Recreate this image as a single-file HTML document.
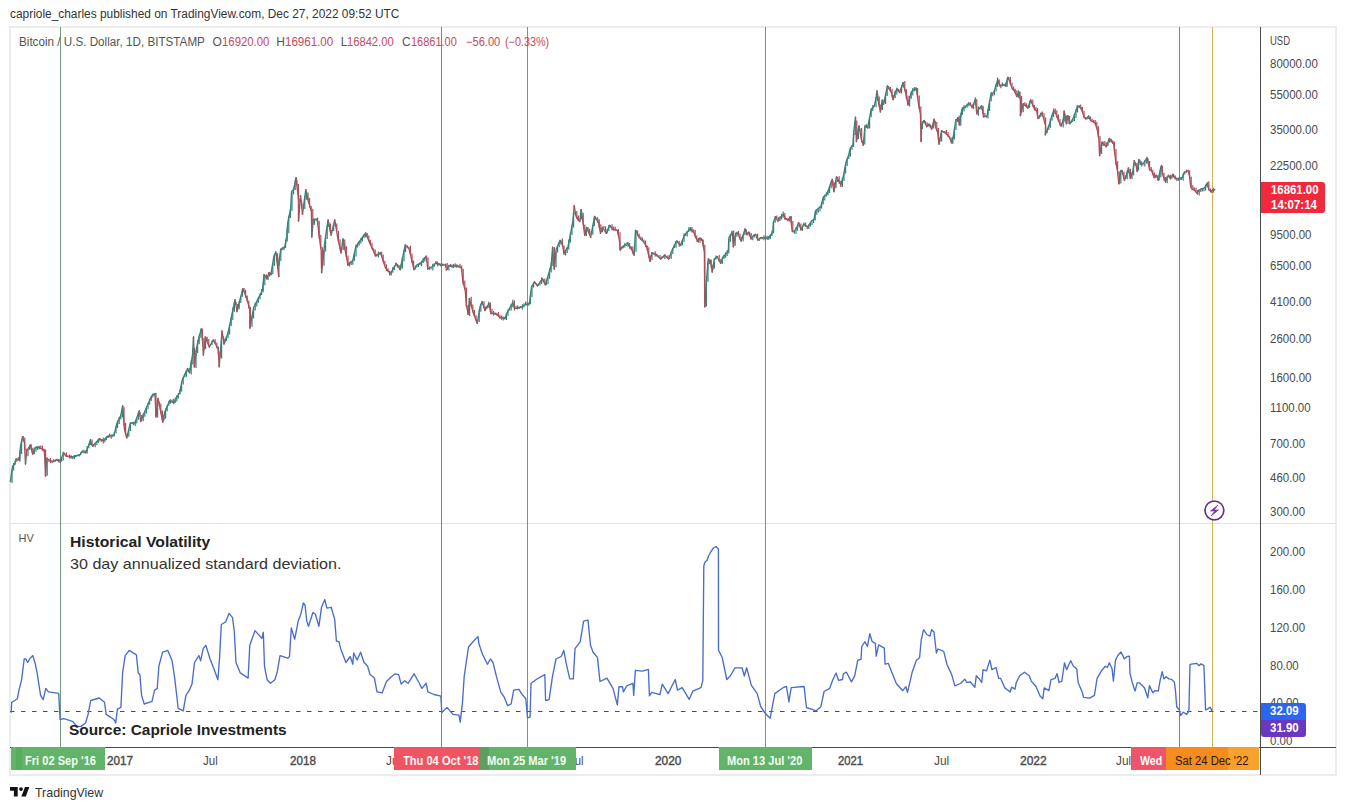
<!DOCTYPE html>
<html><head><meta charset="utf-8">
<style>
html,body{margin:0;padding:0;background:#fff;}
body{width:1346px;height:810px;overflow:hidden;position:relative;font-family:"Liberation Sans", sans-serif;}
.t{position:absolute;white-space:nowrap;}
.box{position:absolute;top:747px;height:23px;}
</style></head><body>
<svg width="1346" height="810" style="position:absolute;left:0;top:0">
 <rect x="10" y="27" width="1326" height="748" fill="none" stroke="#ececec" stroke-width="2"/>
 <line x1="10" y1="523.5" x2="1336" y2="523.5" stroke="#e3e3e3" stroke-width="1"/>
 <line x1="60.5" y1="27" x2="60.5" y2="747" stroke="#6f9c77" stroke-width="1"/>
 <line x1="441.5" y1="27" x2="441.5" y2="747" stroke="#c2636f" stroke-width="1"/>
 <line x1="527.5" y1="27" x2="527.5" y2="747" stroke="#6f9c77" stroke-width="1"/>
 <line x1="765.5" y1="27" x2="765.5" y2="747" stroke="#6f9c77" stroke-width="1"/>
 <line x1="1179.5" y1="27" x2="1179.5" y2="747" stroke="#c2636f" stroke-width="1"/>
 <line x1="1212.5" y1="27" x2="1212.5" y2="747" stroke="#d2b452" stroke-width="1"/>
 <line x1="10" y1="711.5" x2="1260" y2="711.5" stroke="#4a4a66" stroke-width="1" stroke-dasharray="4.5 6.5"/>
 <path d="M10.4 481.5L12.6 466.0M12.6 466.0L14.8 464.4M14.8 464.4L16.0 459.0M19.3 460.0L20.7 445.0M20.7 445.0L22.5 437.0M25.5 464.0L26.7 451.0M26.7 451.0L30.4 445.0M32.6 454.0L34.8 448.0M34.8 448.0L37.8 447.0M45.5 476.0L46.7 458.5M52.6 462.0L56.3 460.0M60.0 460.7L63.7 453.0M71.9 457.0L80.0 454.8M80.0 454.8L81.5 452.0M81.5 452.0L86.0 452.0M86.0 452.0L90.4 440.7M92.6 446.0L99.3 439.0M103.7 440.7L106.7 437.0M106.7 437.0L114.0 434.8M114.0 434.8L117.0 423.0M117.0 423.0L120.7 415.6M120.7 415.6L122.7 406.0M126.7 437.8L130.4 423.0M130.4 423.0L134.8 423.0M134.8 423.0L139.3 411.0M140.7 421.5L146.7 406.7M146.7 406.7L151.9 395.6M151.9 395.6L155.0 393.5M156.0 416.0L158.0 398.4M162.8 422.0L164.8 412.0M164.8 412.0L169.8 400.4M173.7 403.0L179.6 392.5M179.6 392.5L182.6 378.7M182.6 378.7L187.5 368.8M189.5 372.7L192.5 355.0M192.5 355.0L193.5 337.0M194.4 366.8L196.4 349.0M196.4 349.0L199.4 335.0M199.4 335.0L201.8 329.0M203.4 355.0L205.3 337.0M209.3 347.0L213.2 340.0M219.2 366.8L222.0 331.0M224.0 344.0L228.0 333.0M228.0 333.0L231.0 319.0M231.0 319.0L235.0 299.6M237.0 311.5L242.8 288.8M249.8 328.0L253.7 307.5M253.7 307.5L257.7 299.6M257.7 299.6L262.6 289.8M262.6 289.8L264.0 274.6M267.0 278.5L268.9 272.6M270.9 274.6L273.8 256.8M273.8 256.8L275.8 251.9M278.8 276.5L278.8 262.7M278.8 262.7L280.7 249.9M280.7 249.9L284.7 247.0M284.7 247.0L286.7 237.0M286.7 237.0L287.7 223.0M287.7 223.0L290.6 209.0M290.6 209.0L291.6 191.6M291.6 191.6L293.6 189.6M293.6 189.6L296.1 177.8M298.5 221.0L300.5 195.6M302.5 214.3L305.8 189.6M311.8 237.0L313.3 219.3M313.3 219.3L317.3 219.3M321.6 272.6L325.2 239.0M325.2 239.0L328.1 220.0M331.1 235.0L334.7 220.0M341.0 252.8L343.0 239.0M347.9 264.7L352.8 260.7M352.8 260.7L355.8 247.0M355.8 247.0L359.8 241.0M359.8 241.0L365.7 233.0M375.6 255.8L380.5 252.8M390.4 273.6L396.3 263.7M400.2 269.6L405.2 245.0M414.0 269.6L416.9 265.0M416.9 265.0L420.9 263.0M420.9 263.0L426.2 256.2M427.8 269.0L431.7 267.0M431.7 267.0L435.7 263.0M441.6 265.0L445.6 265.0M446.5 270.0L448.5 266.0M448.5 266.0L457.4 266.0M468.3 314.4L469.3 298.6M477.2 323.3L480.1 306.5M480.1 306.5L482.1 301.6M485.0 310.5L489.0 303.6M491.0 313.5L495.9 313.5M504.8 318.4L506.8 313.5M506.8 313.5L512.7 302.6M514.7 308.5L520.6 307.5M520.6 307.5L525.6 304.6M525.6 304.6L529.5 303.6M529.5 303.6L531.5 286.8M531.5 286.8L534.4 281.9M537.4 285.8L542.3 278.9M545.3 284.8L548.3 275.0M548.3 275.0L551.2 265.0M551.2 265.0L552.6 247.3M554.2 269.0L556.2 249.3M556.2 249.3L560.1 240.4M564.0 253.0L567.9 247.2M567.9 247.2L569.9 237.3M569.9 237.3L572.8 221.5M572.8 221.5L574.2 205.7M579.8 221.5L581.1 209.6M584.7 235.3L586.7 227.4M590.6 237.3L594.6 216.5M600.5 233.3L602.5 227.4M606.4 233.3L609.4 225.4M620.2 250.0L623.2 246.2M623.2 246.2L627.2 243.2M634.1 255.0L635.5 230.4M649.9 261.0L651.9 253.0M660.7 259.0L664.7 255.0M668.6 259.0L672.6 249.1M672.6 249.1L676.5 241.2M680.5 245.2L684.4 235.3M684.4 235.3L690.4 228.4M697.3 241.2L700.0 238.9M704.8 306.4L706.7 277.8M706.7 277.8L708.3 258.9M712.2 272.0L714.4 258.9M714.4 258.9L717.2 256.7M720.6 263.3L722.8 257.8M722.8 257.8L726.1 253.3M726.1 253.3L728.3 251.1M728.3 251.1L728.9 237.8M728.9 237.8L732.2 232.2M733.3 246.7L735.6 233.3M735.6 233.3L737.8 233.3M741.1 241.1L743.3 234.4M743.3 234.4L745.0 228.9M746.7 234.4L748.9 232.2M751.1 238.9L753.3 235.6M753.3 235.6L755.6 234.4M757.8 240.0L760.6 237.8M760.6 237.8L762.8 237.8M762.8 237.8L765.6 237.8M767.8 238.9L771.1 234.4M771.1 234.4L772.8 232.2M772.8 232.2L773.3 222.2M773.3 222.2L775.6 216.7M777.8 221.1L780.0 217.8M780.0 217.8L783.3 214.4M787.8 220.0L790.6 216.7M792.2 231.1L794.4 231.1M794.4 231.1L796.7 227.8M796.7 227.8L798.5 222.7M801.0 229.6L803.6 224.4M808.0 227.0L811.4 221.0M811.4 221.0L814.0 219.3M814.0 219.3L815.7 210.6M815.7 210.6L820.9 206.3M820.9 206.3L823.5 196.8M823.5 196.8L827.0 194.2M827.0 194.2L829.6 186.4M829.6 186.4L832.2 179.5M833.9 191.6L836.5 176.9M840.8 184.7L843.4 176.0M843.4 176.0L846.0 162.2M846.0 162.2L848.6 155.3M848.6 155.3L850.3 148.4M850.3 148.4L852.9 144.9M852.9 144.9L853.8 131.1M853.8 131.1L855.5 117.3M856.4 141.5L859.0 125.9M863.3 144.9L865.0 125.9M867.6 127.7L871.0 110.4M871.0 110.4L874.5 105.2M874.5 105.2L876.0 98.3M876.0 98.3L877.0 90.9M880.4 111.9L882.2 100.7M883.5 104.4L885.9 93.3M885.9 93.3L887.4 85.9M893.1 99.5L895.2 92.1M895.2 92.1L897.0 89.0M899.5 92.1L903.2 82.8M908.1 104.4L910.6 94.6M910.6 94.6L912.5 90.2M912.5 90.2L916.2 89.0M921.1 141.5L921.7 124.2M921.7 124.2L924.2 120.5M926.7 126.7L929.1 124.2M931.6 129.1L934.1 119.3M939.0 144.0L941.5 131.0M952.0 142.7L953.8 134.0M953.8 134.0L955.7 120.5M955.7 120.5L958.1 118.0M959.4 124.2L961.9 109.4M961.9 109.4L965.0 106.9M965.0 106.9L968.6 103.2M972.3 106.9L975.4 99.5M976.7 113.1L978.5 109.4M978.5 109.4L981.6 105.7M983.5 116.8L987.2 115.6M987.2 115.6L989.0 104.4M989.0 104.4L990.9 94.6M990.9 94.6L994.0 92.1M994.0 92.1L995.8 85.9M995.8 85.9L997.7 79.8M1000.1 85.9L1003.2 84.7M1005.7 85.9L1007.9 77.3M1016.7 96.3L1018.9 91.9M1020.4 115.6L1023.3 103.7M1027.8 108.1L1030.7 100.0M1038.1 118.5L1041.1 113.3M1045.3 134.8L1049.3 124.4M1049.3 124.4L1051.5 117.0M1051.5 117.0L1053.7 110.4M1061.1 125.9L1063.3 120.0M1063.3 120.0L1064.1 111.1M1066.3 123.0L1067.8 115.6M1070.0 123.7L1073.0 118.5M1073.0 118.5L1075.9 111.1M1075.9 111.1L1077.4 105.9M1086.3 118.5L1088.5 116.3M1099.6 155.6L1101.9 142.2M1106.3 146.7L1109.3 138.5M1118.9 183.7L1120.4 171.9M1120.4 171.9L1122.0 170.5M1124.4 180.4L1126.4 175.4M1126.4 175.4L1128.4 168.0M1130.4 178.4L1132.8 171.5M1132.8 171.5L1134.3 160.6M1137.3 171.5L1138.8 159.6M1141.2 164.6L1143.2 163.6M1143.2 163.6L1145.2 160.6M1145.2 160.6L1147.2 157.7M1154.1 177.4L1156.5 175.4M1158.5 180.4L1160.0 170.5M1160.0 170.5L1161.5 165.6M1165.4 181.4L1168.4 175.4M1170.4 178.4L1172.8 174.4M1179.3 179.4L1182.2 177.4M1182.2 177.4L1184.2 172.5M1184.2 172.5L1188.1 170.5M1197.0 193.2L1199.0 190.2M1199.0 190.2L1201.5 188.8M1201.5 188.8L1204.4 187.8M1204.4 187.8L1207.4 183.3M1210.9 191.7L1212.8 189.8M1212.8 189.8L1214.8 189.8" fill="none" stroke="#37837a" stroke-width="1.4" stroke-linecap="round"/>
 <path d="M16.0 459.0L19.3 460.0M22.5 437.0L24.4 442.0M24.4 442.0L25.5 464.0M30.4 445.0L32.6 454.0M37.8 447.0L44.4 450.0M44.4 450.0L45.5 476.0M46.7 458.5L52.6 462.0M56.3 460.0L60.0 460.7M63.7 453.0L65.9 456.0M65.9 456.0L71.9 457.0M90.4 440.7L92.6 446.0M99.3 439.0L103.7 440.7M122.7 406.0L124.4 429.0M124.4 429.0L126.7 437.8M139.3 411.0L140.7 421.5M155.0 393.5L156.0 416.0M158.0 398.4L160.0 408.0M160.0 408.0L162.8 422.0M169.8 400.4L173.7 403.0M187.5 368.8L189.5 372.7M193.5 337.0L194.4 366.8M201.8 329.0L203.4 355.0M205.3 337.0L209.3 347.0M213.2 340.0L218.2 349.0M218.2 349.0L219.2 366.8M222.0 331.0L224.0 344.0M235.0 299.6L237.0 311.5M242.8 288.8L246.8 298.6M246.8 298.6L249.8 309.5M249.8 309.5L249.8 328.0M264.0 274.6L267.0 278.5M268.9 272.6L270.9 274.6M275.8 251.9L278.8 276.5M296.1 177.8L298.5 199.5M298.5 199.5L298.5 221.0M300.5 195.6L302.5 214.3M305.8 189.6L308.4 201.5M308.4 201.5L311.4 211.4M311.4 211.4L311.8 237.0M317.3 219.3L319.3 237.0M319.3 237.0L321.2 251.0M321.2 251.0L321.6 272.6M328.1 220.0L331.1 235.0M334.7 220.0L338.0 239.0M338.0 239.0L341.0 252.8M343.0 239.0L347.9 264.7M365.7 233.0L370.6 245.0M370.6 245.0L375.6 255.8M380.5 252.8L385.4 267.7M385.4 267.7L390.4 273.6M396.3 263.7L400.2 269.6M405.2 245.0L409.1 248.9M409.1 248.9L414.0 269.6M426.2 256.2L427.8 269.0M435.7 263.0L441.6 265.0M445.6 265.0L446.5 270.0M457.4 266.0L461.4 268.0M461.4 268.0L463.0 281.9M463.0 281.9L465.3 290.7M465.3 290.7L466.3 304.6M466.3 304.6L468.3 314.4M469.3 298.6L473.2 312.5M473.2 312.5L477.2 323.3M482.1 301.6L485.0 310.5M489.0 303.6L491.0 313.5M495.9 313.5L499.9 317.4M499.9 317.4L504.8 318.4M512.7 302.6L514.7 308.5M534.4 281.9L537.4 285.8M542.3 278.9L545.3 284.8M552.6 247.3L554.2 269.0M560.1 240.4L562.0 243.0M562.0 243.0L564.0 253.0M574.2 205.7L575.8 215.6M575.8 215.6L577.8 219.5M577.8 219.5L579.8 221.5M581.1 209.6L582.7 219.5M582.7 219.5L584.7 235.3M586.7 227.4L590.6 237.3M594.6 216.5L598.5 222.5M598.5 222.5L600.5 233.3M602.5 227.4L606.4 233.3M609.4 225.4L613.3 229.4M613.3 229.4L617.3 230.4M617.3 230.4L619.3 239.3M619.3 239.3L620.2 250.0M627.2 243.2L631.1 248.1M631.1 248.1L634.1 255.0M635.5 230.4L639.0 237.3M639.0 237.3L643.0 241.2M643.0 241.2L646.9 247.2M646.9 247.2L649.9 261.0M651.9 253.0L656.8 255.0M656.8 255.0L660.7 259.0M664.7 255.0L668.6 259.0M676.5 241.2L680.5 245.2M690.4 228.4L694.3 233.3M694.3 233.3L697.3 241.2M700.0 238.9L702.2 240.0M702.2 240.0L704.4 252.0M704.4 252.0L704.8 306.4M708.3 258.9L710.6 261.0M710.6 261.0L712.2 272.0M717.2 256.7L720.6 263.3M732.2 232.2L733.3 246.7M737.8 233.3L741.1 241.1M745.0 228.9L746.7 234.4M748.9 232.2L751.1 238.9M755.6 234.4L757.8 240.0M765.6 237.8L767.8 238.9M775.6 216.7L777.8 221.1M783.3 214.4L785.6 218.9M785.6 218.9L787.8 220.0M790.6 216.7L792.2 231.1M798.5 222.7L801.0 229.6M803.6 224.4L808.0 227.0M832.2 179.5L833.9 191.6M836.5 176.9L840.8 184.7M855.5 117.3L856.4 141.5M859.0 125.9L861.5 139.8M861.5 139.8L863.3 144.9M865.0 125.9L867.6 127.7M877.0 90.9L878.5 102.0M878.5 102.0L880.4 111.9M882.2 100.7L883.5 104.4M887.4 85.9L889.6 89.6M889.6 89.6L891.5 92.1M891.5 92.1L893.1 99.5M897.0 89.0L899.5 92.1M903.2 82.8L905.7 93.3M905.7 93.3L908.1 104.4M916.2 89.0L917.4 95.8M917.4 95.8L918.6 104.4M918.6 104.4L920.5 114.3M920.5 114.3L921.1 141.5M924.2 120.5L926.7 126.7M929.1 124.2L931.6 129.1M934.1 119.3L935.9 127.9M935.9 127.9L937.8 132.8M937.8 132.8L939.0 144.0M941.5 131.0L945.2 132.8M945.2 132.8L948.9 136.5M948.9 136.5L952.0 142.7M958.1 118.0L959.4 124.2M968.6 103.2L972.3 106.9M975.4 99.5L976.7 113.1M981.6 105.7L983.5 116.8M997.7 79.8L1000.1 85.9M1003.2 84.7L1005.7 85.9M1007.9 77.3L1010.0 82.2M1010.0 82.2L1012.2 88.9M1012.2 88.9L1014.4 90.4M1014.4 90.4L1016.7 96.3M1018.9 91.9L1020.4 99.3M1020.4 99.3L1020.4 115.6M1023.3 103.7L1027.8 108.1M1030.7 100.0L1033.7 107.4M1033.7 107.4L1036.7 111.1M1036.7 111.1L1038.1 118.5M1041.1 113.3L1043.3 117.0M1043.3 117.0L1045.6 125.9M1045.6 125.9L1045.3 134.8M1053.7 110.4L1055.9 114.0M1055.9 114.0L1058.9 121.5M1058.9 121.5L1061.1 125.9M1064.1 111.1L1066.3 123.0M1067.8 115.6L1070.0 123.7M1077.4 105.9L1081.1 108.1M1081.1 108.1L1084.1 117.0M1084.1 117.0L1086.3 118.5M1088.5 116.3L1090.7 120.7M1090.7 120.7L1095.2 123.0M1095.2 123.0L1097.4 130.4M1097.4 130.4L1098.9 139.3M1098.9 139.3L1099.6 155.6M1101.9 142.2L1106.3 146.7M1109.3 138.5L1112.2 142.2M1112.2 142.2L1113.7 143.7M1113.7 143.7L1115.9 163.0M1115.9 163.0L1117.4 170.4M1117.4 170.4L1118.9 183.7M1122.0 170.5L1124.4 180.4M1128.4 168.0L1130.4 178.4M1134.3 160.6L1136.3 166.5M1136.3 166.5L1137.3 171.5M1138.8 159.6L1141.2 164.6M1147.2 157.7L1149.6 169.5M1149.6 169.5L1151.6 170.5M1151.6 170.5L1154.1 177.4M1156.5 175.4L1158.5 180.4M1161.5 165.6L1162.5 174.4M1162.5 174.4L1165.4 181.4M1168.4 175.4L1170.4 178.4M1172.8 174.4L1175.3 178.4M1175.3 178.4L1179.3 179.4M1188.1 170.5L1189.6 176.4M1189.6 176.4L1190.6 186.3M1190.6 186.3L1192.1 189.3M1192.1 189.3L1194.6 190.2M1194.6 190.2L1197.0 193.2M1207.4 183.3L1208.9 189.8M1208.9 189.8L1210.9 191.7" fill="none" stroke="#ad4e59" stroke-width="1.4" stroke-linecap="round"/>
 <path d="M12.0 469.5V482.9M13.6 463.1V470.6M15.2 460.4V464.3M16.8 458.9V461.7M20.0 450.5V461.6M21.6 440.3V454.0M23.2 435.9V441.8M28.0 448.4V456.2M29.6 445.1V449.7M34.4 448.3V454.2M36.0 446.6V451.7M37.6 447.0V449.9M39.2 445.8V449.3M47.2 457.5V475.8M53.6 459.3V461.5M55.2 459.5V462.0M56.8 458.7V460.5M60.0 458.9V463.1M61.6 457.6V461.7M63.2 451.8V460.4M64.8 453.3V454.2M72.8 457.1V459.3M74.4 455.1V458.9M76.0 454.8V457.2M79.2 454.0V456.5M80.8 452.2V454.7M82.4 450.2V452.3M85.6 450.6V453.7M87.2 446.1V453.6M88.8 443.7V448.2M90.4 439.0V445.3M95.2 443.3V447.2M96.8 440.9V444.9M98.4 438.6V443.1M101.6 439.0V441.7M104.8 438.5V442.2M106.4 436.6V440.2M108.0 434.9V438.0M112.8 434.4V437.2M114.4 432.0V436.2M116.0 426.0V433.6M117.6 420.4V428.1M119.2 417.0V423.9M120.8 414.7V419.4M122.4 407.4V417.5M128.8 429.8V436.7M130.4 422.7V430.9M132.0 422.8V424.2M135.2 422.0V426.0M136.8 418.0V423.5M138.4 412.4V419.7M143.2 413.5V421.2M144.8 411.3V416.7M146.4 407.5V413.4M148.0 403.2V409.3M149.6 398.7V404.8M151.2 396.5V400.9M152.8 393.4V397.5M154.4 393.5V395.7M157.6 400.5V417.6M164.0 414.8V420.5M165.6 408.2V418.8M167.2 405.3V411.3M168.8 401.2V405.7M170.4 399.5V403.7M172.0 399.5V402.7M175.2 397.6V403.0M176.8 395.3V401.5M178.4 392.9V398.6M180.0 389.8V394.5M181.6 383.8V391.5M183.2 377.3V384.6M184.8 373.4V377.5M186.4 370.5V376.7M188.0 368.2V372.3M191.2 360.5V374.6M192.8 348.7V364.5M196.0 350.0V367.9M197.6 340.3V352.9M199.2 336.5V344.3M200.8 328.6V337.7M205.6 336.9V349.1M210.4 344.6V346.0M212.0 340.4V345.1M221.6 335.4V358.4M226.4 336.5V341.1M228.0 331.9V338.3M229.6 324.5V334.5M231.2 317.6V326.0M232.8 307.6V320.1M234.4 302.1V311.8M239.2 301.1V308.9M240.8 295.9V303.1M242.4 289.2V296.7M252.0 316.0V326.8M253.6 308.5V318.5M255.2 302.7V310.5M256.8 300.9V306.5M258.4 297.1V302.7M260.0 293.6V299.4M261.6 289.0V295.1M263.2 282.2V292.3M264.8 275.6V285.3M268.0 275.6V279.9M269.6 272.5V276.4M272.8 263.0V274.2M274.4 253.8V265.8M276.0 252.4V255.5M279.2 258.3V265.8M280.8 248.2V261.0M284.0 246.5V250.2M285.6 239.6V248.0M287.2 229.1V241.6M288.8 215.8V233.3M290.4 209.3V218.1M292.0 191.8V211.1M293.6 187.6V194.4M295.2 179.4V189.9M304.8 195.8V208.9M306.4 191.8V199.7M314.4 219.8V224.8M316.0 218.9V221.2M324.0 249.9V265.8M325.6 237.1V251.6M327.2 224.9V239.0M328.8 224.1V227.0M332.0 230.1V231.5M333.6 224.5V230.9M335.2 221.7V226.5M343.2 239.3V250.0M349.6 261.8V266.5M352.8 259.5V264.7M354.4 253.3V260.8M356.0 244.6V256.4M357.6 243.2V247.6M359.2 241.1V245.4M360.8 238.2V243.4M362.4 236.6V241.4M364.0 234.0V238.1M365.6 233.3V237.2M378.4 251.4V257.5M380.0 252.6V254.6M391.2 271.1V275.5M392.8 267.0V272.7M394.4 265.6V270.0M396.0 262.5V266.5M400.8 264.4V269.2M402.4 257.1V268.4M404.0 250.1V261.4M405.6 245.9V252.0M415.2 265.6V269.5M416.8 265.7V267.4M418.4 265.1V267.1M420.0 262.5V265.3M421.6 260.8V266.2M423.2 257.8V263.0M424.8 257.0V261.6M431.2 268.3V269.2M432.8 263.7V270.4M434.4 263.5V266.8M436.0 261.0V264.4M440.8 263.5V266.6M442.4 263.6V266.0M448.8 264.8V270.6M452.0 264.4V268.0M455.2 263.2V267.2M458.4 265.2V266.7M469.6 298.3V316.1M479.2 309.8V322.1M480.8 304.0V311.8M482.4 302.5V304.8M487.2 305.4V308.6M488.8 301.6V307.7M495.2 312.7V314.9M501.6 315.4V319.7M504.8 317.0V319.4M506.4 312.8V320.1M508.0 309.3V315.7M509.6 309.0V310.6M511.2 304.3V310.5M512.8 299.8V307.3M516.0 305.7V309.1M519.2 306.5V308.7M522.4 304.3V309.4M524.0 303.2V307.5M525.6 301.6V304.7M528.8 302.4V305.7M530.4 294.4V304.3M532.0 285.8V297.2M533.6 282.7V287.5M538.4 284.0V285.9M540.0 282.1V285.6M541.6 277.3V283.9M546.4 279.9V285.1M548.0 276.3V284.2M549.6 268.4V278.8M551.2 262.5V272.5M552.8 248.2V265.9M556.0 251.7V267.3M557.6 246.7V252.6M559.2 241.8V247.2M560.8 240.2V244.5M565.6 250.2V255.6M567.2 247.1V252.9M568.8 239.6V249.8M570.4 232.6V242.4M572.0 225.8V235.1M573.6 212.1V227.4M575.2 212.4V214.9M580.0 218.4V220.6M581.6 212.0V219.6M586.4 228.0V236.1M591.2 231.2V234.6M592.8 224.8V234.7M594.4 216.7V225.9M596.0 218.1V219.8M602.4 226.9V232.3M607.2 229.1V233.3M608.8 225.5V230.9M610.4 225.3V227.4M613.6 226.4V230.6M616.8 229.4V230.3M621.6 246.4V249.0M623.2 245.7V248.2M624.8 243.2V247.4M626.4 244.7V245.9M628.0 241.9V246.8M634.4 249.8V254.2M636.0 230.0V251.8M642.4 237.6V240.8M652.0 252.0V260.2M653.6 252.7V254.1M658.4 255.5V257.4M661.6 256.4V258.2M664.8 255.1V258.9M669.6 255.8V258.7M671.2 253.2V258.8M672.8 247.9V253.9M674.4 243.9V247.9M676.0 241.1V247.8M677.6 240.5V243.0M680.8 243.4V246.2M682.4 240.1V245.3M684.0 233.6V241.9M685.6 233.2V236.1M687.2 231.0V236.6M688.8 227.3V231.9M690.4 227.1V231.2M700.0 237.1V242.8M706.4 281.1V306.5M708.0 260.9V281.8M709.6 259.3V264.2M714.4 258.0V268.4M716.0 255.5V259.8M717.6 255.9V257.0M722.4 256.6V263.7M724.0 254.7V258.9M725.6 252.5V257.7M727.2 250.0V256.1M728.8 239.1V253.4M730.4 234.3V241.7M732.0 230.7V235.9M735.2 235.4V245.7M736.8 231.8V236.8M743.2 234.5V241.3M744.8 229.5V235.0M748.0 231.7V235.4M752.8 236.7V240.2M754.4 234.6V237.6M759.2 237.8V240.9M762.4 237.7V239.3M764.0 235.2V240.3M767.2 235.8V238.9M768.8 236.1V239.7M770.4 234.6V239.1M772.0 230.5V236.1M773.6 221.7V233.2M775.2 216.1V222.7M780.0 216.2V221.0M781.6 213.8V219.5M783.2 211.6V217.8M789.6 216.6V221.4M794.4 230.7V233.8M796.0 227.2V233.8M797.6 225.6V230.7M799.2 223.1V227.0M802.4 225.9V231.1M804.0 222.5V226.5M808.8 224.3V228.9M810.4 222.8V226.4M812.0 221.5V225.0M813.6 219.8V223.1M815.2 211.5V220.6M816.8 209.7V214.7M818.4 209.2V212.4M820.0 206.6V211.2M821.6 202.4V208.5M823.2 198.1V204.4M824.8 194.4V200.4M826.4 192.3V196.5M828.0 190.6V195.3M829.6 186.1V193.0M831.2 181.1V188.2M836.0 179.7V188.3M837.6 177.3V181.9M842.4 178.1V187.0M844.0 172.8V181.1M845.6 162.5V173.5M847.2 158.2V165.9M848.8 154.0V159.1M850.4 147.3V156.7M852.0 144.9V150.0M853.6 132.8V146.9M855.2 120.7V135.0M858.4 127.7V139.0M864.8 127.1V144.4M866.4 124.2V127.7M869.6 116.6V128.4M871.2 107.9V117.0M872.8 104.9V111.1M874.4 104.6V106.8M876.0 97.0V107.2M877.6 95.8V100.7M882.4 99.2V110.1M885.6 93.1V103.9M887.2 87.0V96.1M895.2 90.8V98.0M896.8 87.4V94.4M901.6 85.1V93.6M903.2 82.3V87.6M909.6 96.1V106.5M911.2 91.6V98.7M912.8 87.9V95.4M914.4 87.2V91.2M916.0 87.1V90.4M922.4 121.2V128.9M924.0 120.6V123.6M928.8 123.8V126.6M933.6 121.6V128.5M941.6 129.9V141.6M943.2 131.2V132.1M952.8 137.1V143.7M954.4 128.5V139.5M956.0 119.1V130.0M957.6 116.9V122.1M960.8 113.1V125.8M962.4 107.2V114.9M964.0 105.2V111.4M965.6 106.1V108.2M967.2 105.0V107.4M968.8 102.5V106.3M973.6 103.0V109.1M975.2 97.3V105.0M978.4 106.6V115.7M980.0 106.9V109.4M981.6 105.4V109.3M986.4 116.2V117.8M988.0 109.2V118.6M989.6 100.5V110.9M991.2 91.9V101.2M994.4 90.7V95.3M996.0 84.2V91.6M997.6 77.6V86.9M1002.4 82.4V86.6M1005.6 82.8V87.0M1007.2 78.3V86.7M1008.8 77.5V79.6M1018.4 90.2V97.7M1023.2 104.1V112.3M1029.6 100.7V107.7M1031.2 101.0V103.5M1040.8 112.8V116.9M1047.2 128.4V133.1M1048.8 125.0V130.0M1050.4 118.7V127.7M1052.0 114.7V120.7M1053.6 108.5V116.9M1063.2 118.9V127.4M1064.8 113.6V121.7M1068.0 115.4V123.9M1071.2 121.5V123.0M1072.8 118.8V122.0M1074.4 114.3V120.9M1076.0 109.3V118.0M1077.6 106.9V112.5M1079.2 104.9V107.5M1088.8 115.6V119.0M1101.6 143.1V154.1M1103.2 141.6V145.9M1108.0 142.4V146.1M1109.6 138.8V142.8M1120.8 169.8V183.5M1125.6 175.3V178.8M1127.2 170.5V179.3M1128.8 169.5V173.2M1132.0 172.3V179.1M1133.6 163.5V175.4M1135.2 162.3V165.7M1138.4 162.8V170.6M1140.0 159.8V164.8M1143.2 164.6V165.6M1144.8 160.3V166.6M1146.4 158.3V163.6M1156.0 174.6V178.0M1159.2 174.2V179.8M1160.8 166.4V177.6M1167.2 176.3V183.3M1168.8 175.6V177.4M1172.0 175.5V178.8M1173.6 173.7V177.6M1178.4 177.4V180.8M1180.0 176.9V179.6M1183.2 173.7V180.7M1184.8 171.0V174.4M1188.0 171.2V171.5M1199.2 189.4V195.5M1202.4 188.6V191.4M1204.0 188.0V191.3M1205.6 184.5V190.6M1207.2 182.3V187.3M1213.6 187.7V192.6" fill="none" stroke="#37837a" stroke-width="1.2"/>
 <path d="M18.4 457.3V459.8M24.8 437.5V449.8M26.4 448.7V456.3M31.2 444.3V449.4M32.8 447.7V454.3M40.8 445.6V447.6M42.4 445.8V450.8M44.0 448.8V452.2M45.6 449.4V475.8M48.8 459.5V461.7M50.4 458.0V462.9M52.0 460.2V462.6M58.4 459.0V462.3M66.4 452.6V456.7M68.0 455.4V456.7M69.6 454.5V458.4M71.2 455.2V458.7M77.6 455.5V455.9M84.0 449.7V453.2M92.0 439.4V445.4M93.6 444.2V446.4M100.0 438.2V441.6M103.2 437.6V443.4M109.6 433.4V437.6M111.2 434.4V438.8M124.0 407.3V425.6M125.6 423.1V435.0M127.2 434.3V436.9M133.6 421.7V425.3M140.0 412.0V416.0M141.6 414.9V421.3M156.0 392.9V417.9M159.2 401.4V405.6M160.8 403.4V413.6M162.4 410.4V421.5M173.6 399.1V404.2M189.6 368.2V373.1M194.4 347.5V367.2M202.4 329.2V340.4M204.0 338.1V349.9M207.2 336.7V341.4M208.8 339.0V345.9M213.6 339.8V341.7M215.2 339.2V343.8M216.8 342.6V348.3M218.4 346.4V354.5M220.0 351.2V357.8M223.2 336.1V338.7M224.8 338.4V342.5M236.0 301.8V305.1M237.6 304.0V310.0M244.0 288.0V292.3M245.6 289.7V297.8M247.2 295.4V301.7M248.8 300.6V308.6M250.4 306.9V327.0M266.4 274.5V279.5M271.2 272.3V274.9M277.6 253.3V267.4M282.4 247.3V249.8M296.8 179.6V185.6M298.4 184.0V199.6M300.0 198.5V201.8M301.6 200.4V206.2M303.2 203.6V208.6M308.0 192.6V200.0M309.6 197.9V207.5M311.2 206.1V210.7M312.8 208.7V224.9M317.6 217.4V224.8M319.2 221.0V238.5M320.8 234.8V248.3M322.4 247.2V267.3M330.4 223.4V231.9M336.8 223.4V231.4M338.4 231.0V241.0M340.0 239.2V249.6M341.6 246.7V250.2M344.8 239.5V249.5M346.4 246.3V257.3M348.0 255.5V266.1M351.2 260.8V265.0M367.2 233.1V237.3M368.8 235.6V241.5M370.4 239.8V244.7M372.0 242.7V248.7M373.6 248.2V252.4M375.2 249.6V256.3M376.8 253.8V256.5M381.6 251.7V257.1M383.2 254.5V261.9M384.8 260.7V265.7M386.4 264.3V271.1M388.0 268.2V271.8M389.6 270.7V275.6M397.6 264.1V267.6M399.2 265.3V267.4M407.2 245.2V247.4M408.8 246.7V248.4M410.4 245.7V254.3M412.0 253.6V263.0M413.6 260.5V269.6M426.4 257.0V259.7M428.0 257.5V268.5M429.6 266.4V270.1M437.6 261.5V266.2M439.2 263.0V265.6M444.0 263.8V264.5M445.6 263.7V267.3M447.2 263.0V270.1M450.4 264.0V267.0M453.6 263.9V268.1M456.8 264.3V267.8M460.0 263.8V267.7M461.6 265.6V271.5M463.2 268.8V284.5M464.8 280.5V289.4M466.4 287.4V306.9M468.0 304.9V314.6M471.2 296.7V306.4M472.8 304.6V312.5M474.4 309.9V316.6M476.0 315.0V320.8M477.6 320.0V321.1M484.0 301.2V307.9M485.6 306.5V309.3M490.4 302.5V312.1M492.0 308.8V313.8M493.6 311.1V315.5M496.8 313.2V315.6M498.4 311.9V316.6M500.0 314.7V318.7M503.2 316.4V320.4M514.4 300.5V310.4M517.6 305.6V309.6M520.8 306.1V307.7M527.2 302.3V305.8M535.2 282.2V284.0M536.8 283.4V285.2M543.2 278.8V281.8M544.8 278.6V283.8M554.4 247.0V266.8M562.4 238.6V245.8M564.0 245.2V254.9M576.8 211.1V219.1M578.4 215.5V221.0M583.2 212.7V224.9M584.8 224.4V235.3M588.0 227.0V231.3M589.6 228.7V235.1M597.6 217.3V222.7M599.2 219.2V227.8M600.8 224.2V231.9M604.0 226.1V228.6M605.6 226.5V232.5M612.0 224.2V230.6M615.2 226.7V230.8M618.4 228.9V235.8M620.0 232.3V249.7M629.6 242.9V248.7M631.2 246.3V249.9M632.8 246.4V253.8M637.6 230.6V235.8M639.2 233.7V237.0M640.8 236.5V240.1M644.0 239.6V242.0M645.6 240.5V247.2M647.2 245.5V250.4M648.8 247.3V257.4M650.4 255.5V261.8M655.2 251.2V256.6M656.8 253.8V256.4M660.0 255.0V258.5M663.2 256.1V257.7M666.4 256.1V257.9M668.0 255.3V259.0M679.2 241.0V246.8M692.0 226.9V232.4M693.6 229.4V233.0M695.2 230.1V237.7M696.8 235.6V239.9M698.4 238.1V242.7M701.6 237.8V240.9M703.2 239.4V246.8M704.8 244.8V307.8M711.2 259.5V267.8M712.8 264.8V269.6M719.2 255.0V261.9M720.8 258.9V263.8M733.6 230.4V246.3M738.4 231.1V235.5M740.0 233.4V239.7M741.6 236.7V239.6M746.4 229.4V235.2M749.6 232.2V236.5M751.2 232.9V238.9M756.0 234.6V236.1M757.6 233.6V240.1M760.8 237.2V239.3M765.6 235.9V239.4M776.8 215.5V218.5M778.4 217.2V220.6M784.8 213.1V219.8M786.4 218.0V219.6M788.0 218.2V221.4M791.2 216.2V223.1M792.8 221.0V232.4M800.8 223.5V230.5M805.6 222.5V226.7M807.2 225.5V229.2M832.8 180.4V185.7M834.4 182.4V189.6M839.2 176.3V183.8M840.8 180.7V187.0M856.8 120.5V139.8M860.0 128.8V131.6M861.6 128.1V142.2M863.2 140.9V145.8M868.0 125.5V128.7M879.2 96.4V106.2M880.8 104.4V109.9M884.0 99.7V103.1M888.8 85.9V89.3M890.4 87.1V92.2M892.0 88.7V96.7M893.6 95.3V99.4M898.4 88.9V91.9M900.0 90.2V93.3M904.8 81.0V91.1M906.4 89.2V99.3M908.0 95.6V105.9M917.6 88.0V97.7M919.2 95.4V109.1M920.8 106.4V128.6M925.6 121.3V124.6M927.2 122.6V126.2M930.4 124.6V128.1M932.0 125.7V128.6M935.2 120.8V124.2M936.8 122.0V131.0M938.4 127.9V138.9M940.0 137.4V141.6M944.8 131.1V132.0M946.4 129.9V135.1M948.0 132.1V136.8M949.6 135.8V138.4M951.2 137.6V143.4M959.2 115.4V126.1M970.4 102.3V104.5M972.0 104.2V108.6M976.8 99.0V114.8M983.2 106.0V114.3M984.8 113.0V117.2M992.8 93.8V96.2M999.2 79.6V85.3M1000.8 84.5V88.2M1004.0 83.8V86.1M1010.4 77.0V84.2M1012.0 82.5V87.8M1013.6 86.5V90.7M1015.2 88.8V93.3M1016.8 90.5V97.3M1020.0 91.7V99.6M1021.6 96.0V112.2M1024.8 102.2V105.7M1026.4 103.3V106.8M1028.0 105.2V108.0M1032.8 99.4V106.6M1034.4 105.1V110.4M1036.0 106.9V111.3M1037.6 108.1V117.0M1039.2 115.8V118.8M1042.4 111.4V115.0M1044.0 113.3V119.2M1045.6 117.4V134.1M1055.2 108.6V113.7M1056.8 110.2V117.5M1058.4 114.5V121.8M1060.0 119.1V125.8M1061.6 123.0V125.8M1066.4 115.5V124.5M1069.6 116.0V122.8M1080.8 104.4V109.4M1082.4 106.9V112.3M1084.0 110.7V118.5M1085.6 117.5V119.7M1087.2 117.2V119.3M1090.4 116.5V119.8M1092.0 118.6V121.7M1093.6 119.9V123.0M1095.2 119.9V124.7M1096.8 121.7V128.7M1098.4 126.3V137.5M1100.0 135.9V153.3M1104.8 141.1V145.6M1106.4 142.4V146.6M1111.2 138.8V142.3M1112.8 140.2V144.0M1114.4 141.5V151.2M1116.0 148.9V164.5M1117.6 161.3V174.2M1119.2 171.4V183.6M1122.4 171.2V175.1M1124.0 171.5V178.8M1130.4 168.7V178.9M1136.8 162.9V169.8M1141.6 161.2V166.4M1148.0 158.4V163.2M1149.6 160.9V170.5M1151.2 167.1V171.4M1152.8 169.7V174.7M1154.4 172.6V178.2M1157.6 175.4V180.2M1162.4 166.0V174.5M1164.0 172.8V180.8M1165.6 177.0V183.1M1170.4 174.7V179.5M1175.2 175.5V179.4M1176.8 177.4V181.1M1181.6 177.1V179.9M1186.4 169.4V172.8M1189.6 170.6V178.6M1191.2 176.7V187.7M1192.8 185.2V189.9M1194.4 187.6V190.6M1196.0 187.8V192.2M1197.6 189.9V194.8M1200.8 188.8V192.0M1208.8 181.2V189.9M1210.4 188.5V190.9M1212.0 189.8V193.0" fill="none" stroke="#ad4e59" stroke-width="1.2"/>
 <polyline points="11.2,712.6 11.7,702.3 14.7,700.5 17.3,698.8 19.0,690.2 21.6,679.8 24.2,659.0 25.9,659.0 27.6,662.5 30.2,658.2 32.8,655.6 35.4,664.3 37.1,672.9 40.6,695.4 43.2,699.7 45.8,688.4 48.4,691.9 58.7,693.3 60.1,719.5 63.9,718.7 72.5,721.3 76.9,726.4 81.2,726.4 85.5,723.0 88.1,714.4 90.7,700.5 99.3,698.0 104.5,702.3 106.2,714.4 114.0,719.5 115.7,723.0 117.4,709.2 120.9,707.4 122.6,672.9 125.2,655.6 129.2,650.4 136.4,654.8 138.2,672.9 139.9,674.6 141.6,695.4 144.2,704.0 152.0,701.4 154.6,690.2 157.2,688.4 158.9,666.0 162.6,652.2 167.8,650.4 172.1,660.8 174.7,678.1 177.3,700.5 178.1,708.3 183.3,710.9 185.9,695.4 189.4,690.2 192.0,684.1 194.5,662.5 198.9,655.6 200.6,660.8 203.2,648.7 205.8,645.3 210.1,659.0 213.5,667.7 217.9,679.8 219.6,657.4 221.3,624.5 225.6,622.0 229.1,613.3 232.5,617.6 234.3,631.5 236.0,662.5 240.3,672.9 248.1,678.1 249.8,645.3 255.0,630.6 261.9,638.4 263.3,632.3 264.5,666.0 267.1,679.8 270.5,683.3 274.9,679.8 277.4,671.2 280.0,655.6 287.8,658.2 289.5,656.5 291.3,628.0 294.7,639.2 298.2,621.1 300.8,614.2 303.4,603.0 305.1,605.5 306.8,621.1 308.5,626.3 312.9,612.5 315.4,614.2 318.9,626.3 321.5,607.3 324.8,599.5 326.9,608.1 331.2,607.3 334.7,619.4 336.4,641.0 339.0,641.8 340.7,648.7 345.9,662.5 350.2,656.5 352.8,664.3 353.7,653.0 357.1,660.0 360.6,652.2 364.0,662.5 367.5,666.0 370.1,674.6 374.4,678.1 377.0,691.9 382.2,692.8 386.5,681.5 390.8,677.2 395.1,673.8 398.6,674.6 401.2,684.1 404.6,680.7 408.1,683.3 414.1,673.8 419.3,683.3 421.9,688.4 426.2,683.3 427.9,691.9 434.0,694.5 440.9,696.2 441.8,712.6 446.9,707.4 453.0,714.4 459.0,715.2 460.2,722.1 462.5,702.3 464.2,676.4 468.5,647.0 473.7,641.0 478.0,636.6 478.9,643.5 482.3,653.9 487.5,664.3 490.4,659.0 493.0,662.5 496.4,676.4 500.7,691.9 504.2,697.1 507.6,705.7 511.1,704.0 513.7,690.2 518.9,689.3 521.5,693.6 525.8,698.8 527.5,717.8 530.1,717.0 531.0,683.3 537.0,679.0 544.8,674.6 545.6,700.5 549.1,699.7 552.5,676.4 556.0,659.0 561.2,656.5 563.8,650.4 566.4,664.3 569.8,678.9 573.3,678.9 575.0,648.7 580.2,641.8 583.6,621.1 588.0,620.2 590.5,645.3 593.1,652.2 597.4,657.4 600.0,681.5 606.9,678.1 613.0,688.4 617.3,704.9 619.0,686.7 622.5,686.7 623.4,691.9 626.8,685.9 632.9,683.3 633.7,695.4 635.4,670.3 642.3,671.2 648.4,669.4 649.4,695.9 651.7,692.4 659.9,694.7 662.3,684.2 668.1,693.6 675.2,679.5 677.5,690.1 682.2,687.7 689.2,699.4 692.8,691.2 701.0,687.7 702.8,680.7 703.8,566.0 705.0,562.0 707.0,560.5 708.5,556.0 711.0,551.5 713.5,548.0 716.0,546.5 718.4,549.0 718.5,650.2 722.1,657.2 726.8,679.5 730.3,676.0 735.0,667.8 742.0,667.8 744.3,676.0 746.7,667.8 751.4,685.4 757.2,693.6 760.7,706.5 765.4,713.5 770.1,718.2 774.8,693.6 783.0,687.7 786.5,686.5 788.9,701.8 791.2,687.7 804.1,686.5 806.4,707.5 811.2,709.1 816.1,710.8 820.9,706.7 824.1,691.5 829.7,688.3 832.9,679.5 836.1,673.0 838.5,680.3 842.5,679.5 843.3,673.8 846.5,672.2 851.4,681.9 854.6,676.2 857.8,660.2 861.0,659.4 861.8,646.5 865.0,641.7 867.4,646.5 869.8,633.7 872.2,641.7 875.4,643.3 876.2,656.2 878.7,644.9 884.3,648.2 885.1,664.2 888.3,663.4 893.1,675.4 896.3,683.5 902.7,690.7 905.9,686.7 907.5,692.3 912.4,671.4 916.4,660.2 919.6,657.8 921.2,640.1 923.6,629.7 926.8,634.5 930.0,636.1 931.6,629.7 934.0,632.1 936.4,653.0 938.0,649.0 943.7,651.4 946.9,664.2 951.7,674.6 954.9,685.9 960.5,683.5 964.8,679.1 966.8,682.5 970.2,681.8 974.9,687.2 976.3,675.7 979.0,678.4 981.7,682.5 983.1,669.6 986.5,670.9 989.9,660.1 991.9,669.6 996.0,667.5 998.7,678.4 1000.7,678.4 1004.8,687.9 1010.2,692.0 1011.6,687.2 1015.0,689.2 1016.3,682.5 1019.7,675.7 1024.5,672.3 1029.2,675.7 1031.3,681.1 1036.0,686.5 1040.1,696.0 1042.8,698.8 1044.2,687.9 1048.9,690.6 1051.0,679.7 1055.0,678.4 1057.1,673.6 1059.1,682.5 1061.8,681.1 1064.5,662.8 1066.6,669.6 1070.7,660.7 1073.4,666.2 1076.8,668.9 1078.1,682.5 1082.2,692.0 1083.6,697.4 1089.7,698.1 1094.4,695.4 1097.1,678.4 1101.9,670.2 1105.3,666.2 1107.3,667.5 1109.4,662.8 1112.1,668.9 1113.4,681.1 1115.5,660.1 1117.5,656.0 1120.9,651.9 1124.4,658.9 1126.7,656.7 1129.4,656.1 1130.0,673.3 1132.2,682.2 1135.0,691.1 1137.2,682.8 1139.4,682.8 1144.4,687.8 1147.8,697.8 1149.4,685.6 1152.8,692.8 1155.0,690.6 1158.3,691.1 1160.0,681.1 1162.2,671.7 1163.9,678.9 1166.1,676.7 1168.9,678.9 1171.7,679.4 1174.4,682.2 1175.6,692.2 1176.7,706.7 1179.4,710.0 1180.6,715.6 1183.3,712.2 1186.7,714.4 1188.9,711.1 1190.0,664.4 1196.7,663.3 1198.9,665.6 1201.1,663.9 1203.9,665.6 1205.6,710.0 1207.8,708.9 1210.0,707.2 1212.2,711.1" fill="none" stroke="#4a6ccc" stroke-width="1.35" stroke-linejoin="round"/>
 <line x1="10" y1="747.5" x2="1336" y2="747.5" stroke="#4b4b4b" stroke-width="1"/>
 <circle cx="1214.4" cy="510.4" r="9.4" fill="#fff" stroke="#632f8e" stroke-width="1.7"/>
 <path d="M1218 505L1210.5 511H1214.8L1211 516L1218.5 510H1214.2Z" fill="#7d35a8" stroke="#7d35a8" stroke-width="0.7" stroke-linejoin="round"/>
</svg>
<div class="t" style="left:10.0px;top:8.1px;font-size:12.5px;font-weight:normal;color:#333;line-height:12.5px;transform:scaleX(0.9520);transform-origin:0 0;">capriole_charles published on TradingView.com, Dec 27, 2022 09:52 UTC</div>
<div class="t" style="left:18.5px;top:36.3px;font-size:12px;font-weight:normal;color:#555;line-height:12px;transform:scaleX(0.9724);transform-origin:0 0;">Bitcoin / U.S. Dollar, 1D, BITSTAMP</div>
<div class="t" style="left:212.5px;top:36.3px;font-size:12px;font-weight:normal;color:#555;line-height:12px;transform:scaleX(1.0000);transform-origin:0 0;">O</div>
<div class="t" style="left:221.5px;top:36.3px;font-size:12px;font-weight:normal;color:#c24b5a;line-height:12px;transform:scaleX(0.9468);transform-origin:0 0;">16920.00</div>
<div class="t" style="left:276.3px;top:36.3px;font-size:12px;font-weight:normal;color:#555;line-height:12px;transform:scaleX(1.0000);transform-origin:0 0;">H</div>
<div class="t" style="left:284.5px;top:36.3px;font-size:12px;font-weight:normal;color:#c24b5a;line-height:12px;transform:scaleX(0.9628);transform-origin:0 0;">16961.00</div>
<div class="t" style="left:340.8px;top:36.3px;font-size:12px;font-weight:normal;color:#555;line-height:12px;transform:scaleX(1.0000);transform-origin:0 0;">L</div>
<div class="t" style="left:347.4px;top:36.3px;font-size:12px;font-weight:normal;color:#c24b5a;line-height:12px;transform:scaleX(0.9308);transform-origin:0 0;">16842.00</div>
<div class="t" style="left:402.1px;top:36.3px;font-size:12px;font-weight:normal;color:#555;line-height:12px;transform:scaleX(1.0000);transform-origin:0 0;">C</div>
<div class="t" style="left:411.1px;top:36.3px;font-size:12px;font-weight:normal;color:#c24b5a;line-height:12px;transform:scaleX(0.9149);transform-origin:0 0;">16861.00</div>
<div class="t" style="left:465.9px;top:36.3px;font-size:12px;font-weight:normal;color:#c24b5a;line-height:12px;transform:scaleX(0.9259);transform-origin:0 0;">−56.00</div>
<div class="t" style="left:505.0px;top:36.3px;font-size:12px;font-weight:normal;color:#c24b5a;line-height:12px;transform:scaleX(0.9015);transform-origin:0 0;">(−0.33%)</div>
<div class="t" style="left:18.5px;top:533.3px;font-size:11px;font-weight:normal;color:#555;line-height:11px;transform:scaleX(1.0000);transform-origin:0 0;">HV</div>
<div class="t" style="left:70.1px;top:533.7px;font-size:15.5px;font-weight:bold;color:#222;line-height:15.5px;transform:scaleX(1.0138);transform-origin:0 0;">Historical Volatility</div>
<div class="t" style="left:69.5px;top:555.7px;font-size:15px;font-weight:normal;color:#333;line-height:15px;transform:scaleX(1.0741);transform-origin:0 0;">30 day annualized standard deviation.</div>
<div class="t" style="left:68.9px;top:722.4px;font-size:15.5px;font-weight:bold;color:#222;line-height:15.5px;transform:scaleX(0.9945);transform-origin:0 0;">Source: Capriole Investments</div>
<div class="t" style="left:107.4px;top:754.6px;font-size:12.5px;font-weight:normal;color:#4a4a4a;line-height:12.5px;transform:scaleX(0.9384);transform-origin:0 0;-webkit-text-stroke:0.4px #4a4a4a;">2017</div>
<div class="t" style="left:203.3px;top:754.6px;font-size:12.5px;font-weight:normal;color:#4a4a4a;line-height:12.5px;transform:scaleX(0.9196);transform-origin:0 0;">Jul</div>
<div class="t" style="left:290.0px;top:754.6px;font-size:12.5px;font-weight:normal;color:#4a4a4a;line-height:12.5px;transform:scaleX(0.9348);transform-origin:0 0;-webkit-text-stroke:0.4px #4a4a4a;">2018</div>
<div class="t" style="left:385.5px;top:754.6px;font-size:12.5px;font-weight:normal;color:#4a4a4a;line-height:12.5px;transform:scaleX(0.9400);transform-origin:0 0;">Jul</div>
<div class="t" style="left:569.0px;top:754.6px;font-size:12.5px;font-weight:normal;color:#4a4a4a;line-height:12.5px;transform:scaleX(0.9009);transform-origin:0 0;">Jul</div>
<div class="t" style="left:654.7px;top:754.6px;font-size:12.5px;font-weight:normal;color:#4a4a4a;line-height:12.5px;transform:scaleX(0.9528);transform-origin:0 0;-webkit-text-stroke:0.4px #4a4a4a;">2020</div>
<div class="t" style="left:838.2px;top:754.6px;font-size:12.5px;font-weight:normal;color:#4a4a4a;line-height:12.5px;transform:scaleX(0.9025);transform-origin:0 0;-webkit-text-stroke:0.4px #4a4a4a;">2021</div>
<div class="t" style="left:933.9px;top:754.6px;font-size:12.5px;font-weight:normal;color:#4a4a4a;line-height:12.5px;transform:scaleX(0.9509);transform-origin:0 0;">Jul</div>
<div class="t" style="left:1020.0px;top:754.6px;font-size:12.5px;font-weight:normal;color:#4a4a4a;line-height:12.5px;transform:scaleX(0.9600);transform-origin:0 0;-webkit-text-stroke:0.4px #4a4a4a;">2022</div>
<div class="t" style="left:1116.1px;top:754.6px;font-size:12.5px;font-weight:normal;color:#4a4a4a;line-height:12.5px;transform:scaleX(0.9400);transform-origin:0 0;">Jul</div>
<div class="t" style="left:34.8px;top:785.7px;font-size:13px;font-weight:normal;color:#333;line-height:13px;transform:scaleX(0.9532);transform-origin:0 0;">TradingView</div>
<div class="t" style="left:1270.4px;top:34.6px;font-size:12px;font-weight:normal;color:#4a4a4a;line-height:12px;transform:scaleX(0.7931);transform-origin:0 0;">USD</div>
<div class="t" style="left:1270.4px;top:58.3px;font-size:12px;font-weight:normal;color:#4a4a4a;line-height:12px;transform:scaleX(0.9560);transform-origin:0 0;">80000.00</div>
<div class="t" style="left:1270.4px;top:88.6px;font-size:12px;font-weight:normal;color:#4a4a4a;line-height:12px;transform:scaleX(0.9560);transform-origin:0 0;">55000.00</div>
<div class="t" style="left:1270.4px;top:123.6px;font-size:12px;font-weight:normal;color:#4a4a4a;line-height:12px;transform:scaleX(0.9560);transform-origin:0 0;">35000.00</div>
<div class="t" style="left:1270.4px;top:159.6px;font-size:12px;font-weight:normal;color:#4a4a4a;line-height:12px;transform:scaleX(0.9560);transform-origin:0 0;">22500.00</div>
<div class="t" style="left:1270.4px;top:228.6px;font-size:12px;font-weight:normal;color:#4a4a4a;line-height:12px;transform:scaleX(0.9560);transform-origin:0 0;">9500.00</div>
<div class="t" style="left:1270.4px;top:259.6px;font-size:12px;font-weight:normal;color:#4a4a4a;line-height:12px;transform:scaleX(0.9560);transform-origin:0 0;">6500.00</div>
<div class="t" style="left:1270.4px;top:295.6px;font-size:12px;font-weight:normal;color:#4a4a4a;line-height:12px;transform:scaleX(0.9560);transform-origin:0 0;">4100.00</div>
<div class="t" style="left:1270.4px;top:332.6px;font-size:12px;font-weight:normal;color:#4a4a4a;line-height:12px;transform:scaleX(0.9560);transform-origin:0 0;">2600.00</div>
<div class="t" style="left:1270.4px;top:371.6px;font-size:12px;font-weight:normal;color:#4a4a4a;line-height:12px;transform:scaleX(0.9560);transform-origin:0 0;">1600.00</div>
<div class="t" style="left:1270.4px;top:401.6px;font-size:12px;font-weight:normal;color:#4a4a4a;line-height:12px;transform:scaleX(0.9560);transform-origin:0 0;">1100.00</div>
<div class="t" style="left:1270.4px;top:437.6px;font-size:12px;font-weight:normal;color:#4a4a4a;line-height:12px;transform:scaleX(0.9560);transform-origin:0 0;">700.00</div>
<div class="t" style="left:1270.4px;top:471.6px;font-size:12px;font-weight:normal;color:#4a4a4a;line-height:12px;transform:scaleX(0.9560);transform-origin:0 0;">460.00</div>
<div class="t" style="left:1270.4px;top:505.8px;font-size:12px;font-weight:normal;color:#4a4a4a;line-height:12px;transform:scaleX(0.9560);transform-origin:0 0;">300.00</div>
<div class="t" style="left:1270.4px;top:546.2px;font-size:12px;font-weight:normal;color:#4a4a4a;line-height:12px;transform:scaleX(0.9560);transform-origin:0 0;">200.00</div>
<div class="t" style="left:1270.4px;top:584.2px;font-size:12px;font-weight:normal;color:#4a4a4a;line-height:12px;transform:scaleX(0.9560);transform-origin:0 0;">160.00</div>
<div class="t" style="left:1270.4px;top:622.2px;font-size:12px;font-weight:normal;color:#4a4a4a;line-height:12px;transform:scaleX(0.9560);transform-origin:0 0;">120.00</div>
<div class="t" style="left:1270.4px;top:659.6px;font-size:12px;font-weight:normal;color:#4a4a4a;line-height:12px;transform:scaleX(0.9560);transform-origin:0 0;">80.00</div>
<div class="t" style="left:1270.4px;top:697.4px;font-size:12px;font-weight:normal;color:#4a4a4a;line-height:12px;transform:scaleX(0.9560);transform-origin:0 0;">40.00</div>
<div class="t" style="left:1270.4px;top:735.4px;font-size:12px;font-weight:normal;color:#4a4a4a;line-height:12px;transform:scaleX(0.9560);transform-origin:0 0;">0.00</div>

<div style="position:absolute;left:1261px;top:182px;width:64px;height:30.5px;background:#f02a3c;border-radius:0 3px 3px 0"></div>
<div style="position:absolute;left:1261px;top:703px;width:44.6px;height:17px;background:#2a66f2;border-radius:0 3px 0 0"></div>
<div style="position:absolute;left:1261px;top:720px;width:44.6px;height:16.5px;background:#6a38c0;border-radius:0 0 3px 3px"></div>
<div class="box" style="left:10.5px;width:94.0px;background:#62b46a"></div>
<div class="box" style="left:16px;width:6.0px;background:#57ad5f"></div>
<div class="box" style="left:394.2px;width:85.4px;background:#f05462"></div>
<div class="box" style="left:479.6px;width:9.2px;background:#5e9e62"></div>
<div class="box" style="left:488.8px;width:86.8px;background:#62b46a"></div>
<div class="box" style="left:719.3px;width:92.5px;background:#62b46a"></div>
<div class="box" style="left:1131.2px;width:34.4px;background:#f05468"></div>
<div class="box" style="left:1165.6px;width:62.4px;background:#f78c1e"></div>
<div class="box" style="left:1228px;width:30.7px;background:#f9a12c"></div>
<div class="t" style="left:1270.8px;top:184.4px;font-size:12px;font-weight:bold;color:#fff;line-height:12px;transform:scaleX(0.9488);transform-origin:0 0;">16861.00</div>
<div class="t" style="left:1270.8px;top:198.7px;font-size:12px;font-weight:bold;color:#fff;line-height:12px;transform:scaleX(0.9560);transform-origin:0 0;">14:07:14</div>
<div class="t" style="left:1270.4px;top:705.2px;font-size:12px;font-weight:bold;color:#fff;line-height:12px;transform:scaleX(0.9560);transform-origin:0 0;">32.09</div>
<div class="t" style="left:1270.4px;top:722.1px;font-size:12px;font-weight:bold;color:#fff;line-height:12px;transform:scaleX(0.9560);transform-origin:0 0;">31.90</div>
<div class="t" style="left:24.9px;top:755.1px;font-size:12.5px;font-weight:bold;color:#f4fff4;line-height:12.5px;transform:scaleX(0.8863);transform-origin:0 0;">Fri 02 Sep '16</div>
<div class="t" style="left:403.4px;top:755.1px;font-size:12.5px;font-weight:bold;color:#fff4f4;line-height:12.5px;transform:scaleX(0.8887);transform-origin:0 0;">Thu 04 Oct '18</div>
<div class="t" style="left:487.4px;top:755.1px;font-size:12.5px;font-weight:bold;color:#f4fff4;line-height:12.5px;transform:scaleX(0.8875);transform-origin:0 0;">Mon 25 Mar '19</div>
<div class="t" style="left:727.3px;top:755.1px;font-size:12.5px;font-weight:bold;color:#f4fff4;line-height:12.5px;transform:scaleX(0.8864);transform-origin:0 0;">Mon 13 Jul '20</div>
<div class="t" style="left:1139.6px;top:755.1px;font-size:12.5px;font-weight:bold;color:#fff;line-height:12.5px;transform:scaleX(0.8521);transform-origin:0 0;">Wed</div>
<div class="t" style="left:1174.9px;top:755.1px;font-size:12.5px;font-weight:normal;color:#2a1808;line-height:12.5px;transform:scaleX(0.8994);transform-origin:0 0;">Sat 24 Dec '22</div>
<svg width="1346" height="810" style="position:absolute;left:0;top:0">
 <line x1="1260.5" y1="27" x2="1260.5" y2="775" stroke="#4b4b4b" stroke-width="1"/>
 <g transform="translate(10 787)" fill="#111">
  <path d="M0 0H7.7V9.6H3.9V3.8H0Z"/>
  <circle cx="11" cy="2.1" r="1.9"/>
  <path d="M15 0H19.3L15.8 9.6H11.4Z"/>
 </g>
</svg>
</body></html>
